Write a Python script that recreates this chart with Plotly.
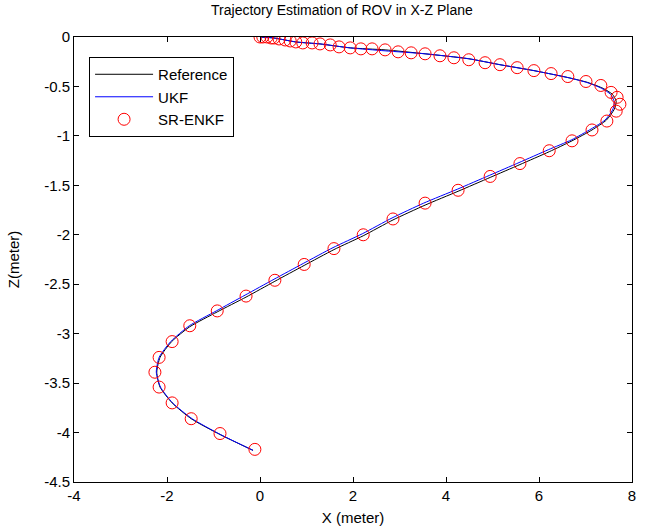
import plotly.graph_objects as go

# SR-ENKF estimates (markers)
enkf_x = [0.00, 0.06, 0.15, 0.24, 0.30, 0.41, 0.54, 0.65, 0.77, 0.92,
          1.12, 1.29, 1.51, 1.70, 1.94, 2.17, 2.41, 2.69, 2.97, 3.25,
          3.55, 3.87, 4.17, 4.49, 4.84, 5.16, 5.53, 5.89, 6.26, 6.62,
          7.01, 7.33, 7.55, 7.68, 7.74, 7.66, 7.46, 7.14, 6.71, 6.22,
          5.59, 4.95, 4.26, 3.55, 2.86, 2.22, 1.59, 0.95, 0.32, -0.30,
          -0.92, -1.51, -1.89, -2.17, -2.26, -2.17, -1.89, -1.48, -0.86, -0.11]
enkf_z = [0.00, 0.00, 0.00, -0.01, -0.01, -0.02, -0.03, -0.04, -0.05, -0.06,
          -0.06, -0.07, -0.08, -0.10, -0.11, -0.12, -0.12, -0.13, -0.15, -0.16,
          -0.17, -0.19, -0.21, -0.23, -0.26, -0.28, -0.31, -0.34, -0.37, -0.40,
          -0.45, -0.49, -0.56, -0.61, -0.68, -0.75, -0.85, -0.94, -1.05, -1.15,
          -1.28, -1.41, -1.55, -1.68, -1.84, -2.00, -2.14, -2.30, -2.46, -2.62,
          -2.77, -2.92, -3.08, -3.24, -3.39, -3.54, -3.70, -3.86, -4.01, -4.17]

# Reference trajectory
ref_x = [0.00, 0.30, 0.77, 1.29, 1.94, 2.69, 3.55, 4.49, 5.16, 5.89,
         6.62, 7.05, 7.38, 7.58, 7.66, 7.62, 7.45, 7.14, 6.71, 6.22,
         5.59, 4.95, 4.26, 3.55, 2.86, 2.22, 1.59, 0.95, 0.32, -0.30,
         -0.92, -1.51, -1.90, -2.15, -2.22, -2.15, -1.89, -1.48, -0.86, -0.15]
ref_z = [0.00, -0.01, -0.05, -0.07, -0.11, -0.13, -0.17, -0.22, -0.28, -0.34,
         -0.41, -0.46, -0.52, -0.58, -0.65, -0.73, -0.84, -0.94, -1.05, -1.16,
         -1.29, -1.42, -1.56, -1.70, -1.85, -2.01, -2.15, -2.31, -2.47, -2.63,
         -2.78, -2.93, -3.08, -3.24, -3.39, -3.54, -3.70, -3.86, -4.02, -4.18]

# UKF estimates
ukf_x = [0.00, 0.30, 0.77, 1.29, 1.94, 2.69, 3.55, 4.49, 5.16, 5.89,
         6.62, 7.03, 7.35, 7.54, 7.62, 7.58, 7.42, 7.12, 6.70, 6.20,
         5.57, 4.93, 4.24, 3.52, 2.84, 2.20, 1.57, 0.93, 0.30, -0.32,
         -0.94, -1.52, -1.92, -2.17, -2.23, -2.14, -1.88, -1.46, -0.85, -0.15]
ukf_z = [0.00, -0.01, -0.05, -0.07, -0.11, -0.14, -0.17, -0.22, -0.28, -0.34,
         -0.41, -0.46, -0.52, -0.58, -0.66, -0.74, -0.84, -0.93, -1.04, -1.14,
         -1.27, -1.40, -1.54, -1.68, -1.83, -1.99, -2.13, -2.29, -2.45, -2.61,
         -2.77, -2.92, -3.08, -3.24, -3.39, -3.54, -3.70, -3.86, -4.02, -4.18]

x_ticks = [-4, -2, 0, 2, 4, 6, 8]
z_ticks = [0, -0.5, -1, -1.5, -2, -2.5, -3, -3.5, -4, -4.5]

fig = go.Figure()
fig.add_trace(go.Scatter(x=ref_x, y=ref_z, mode="lines", name="Reference",
                         line=dict(color="black", width=1, shape="spline", smoothing=0.6)))
fig.add_trace(go.Scatter(x=ukf_x, y=ukf_z, mode="lines", name="UKF",
                         line=dict(color="blue", width=1, shape="spline", smoothing=0.6)))
fig.add_trace(go.Scatter(x=enkf_x, y=enkf_z, mode="markers", name="SR-ENKF",
                         marker=dict(symbol="circle-open", color="red", size=12,
                                     line=dict(width=1, color="red"))))

font = dict(family="Liberation Sans, Arial, sans-serif", size=15, color="black")
axis_common = dict(showline=True, linecolor="black", linewidth=1, mirror="ticks",
                   ticks="inside", ticklen=5, tickcolor="black", showgrid=False,
                   zeroline=False, tickfont=font, automargin=False)

fig.update_layout(
    width=655, height=532,
    margin=dict(l=74, r=23, t=37, b=50),
    paper_bgcolor="white", plot_bgcolor="white",
    font=font,
    title=dict(text="Trajectory Estimation of ROV in X-Z Plane", x=0.522, xanchor="center",
               y=0.981, yanchor="middle", font=dict(size=14)),
    xaxis=dict(range=[-4, 8], tickvals=x_ticks, ticktext=[str(v) for v in x_ticks],
               title=dict(text="X (meter)", standoff=9, font=dict(size=15)), **axis_common),
    yaxis=dict(range=[-4.5, 0], tickvals=z_ticks, ticktext=[f"{v:g}" for v in z_ticks],
               title=dict(text="Z(meter)", standoff=20, font=dict(size=15)), **axis_common),
    legend=dict(x=0.027, y=0.955, xanchor="left", yanchor="top",
                bordercolor="black", borderwidth=1, bgcolor="white",
                font=dict(size=15), tracegroupgap=0, itemwidth=58, entrywidth=182),
    showlegend=True,
)

fig.write_html("out.html", config={"displayModeBar": False},
               post_script="document.body.style.margin='0';")
